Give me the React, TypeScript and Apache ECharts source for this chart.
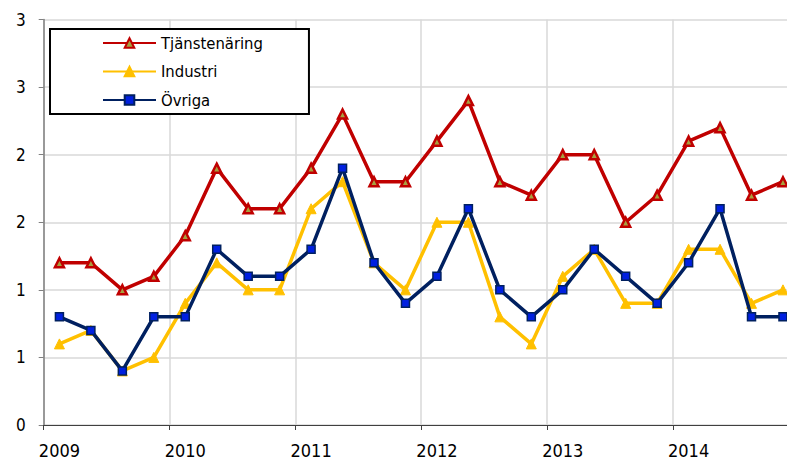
import React, { useEffect, useRef } from "react";
import * as echarts from "echarts";

const quarters = [
  "2009K1", "2009K2", "2009K3", "2009K4",
  "2010K1", "2010K2", "2010K3", "2010K4",
  "2011K1", "2011K2", "2011K3", "2011K4",
  "2012K1", "2012K2", "2012K3", "2012K4",
  "2013K1", "2013K2", "2013K3", "2013K4",
  "2014K1", "2014K2", "2014K3", "2014K4",
];

const tjanstenaring = [1.2, 1.2, 1.0, 1.1, 1.4, 1.9, 1.6, 1.6, 1.9, 2.3, 1.8, 1.8, 2.1, 2.4, 1.8, 1.7, 2.0, 2.0, 1.5, 1.7, 2.1, 2.2, 1.7, 1.8];
const industri = [0.6, 0.7, 0.4, 0.5, 0.9, 1.2, 1.0, 1.0, 1.6, 1.8, 1.2, 1.0, 1.5, 1.5, 0.8, 0.6, 1.1, 1.3, 0.9, 0.9, 1.3, 1.3, 0.9, 1.0];
const ovriga = [0.8, 0.7, 0.4, 0.8, 0.8, 1.3, 1.1, 1.1, 1.3, 1.9, 1.2, 0.9, 1.1, 1.6, 1.0, 0.8, 1.0, 1.3, 1.1, 0.9, 1.2, 1.6, 0.8, 0.8];

const seriesNames = ["Tjänstenäring", "Industri", "Övriga"];

const FONT = "'DejaVu Sans Condensed', 'Liberation Sans Narrow', 'Arial Narrow', sans-serif";

export default function App() {
  const ref = useRef<HTMLDivElement>(null);
  useEffect(() => {
    if (!ref.current) return;
    const chart = echarts.init(ref.current, null, { renderer: "svg" });
    chart.setOption({
      animation: false,
      backgroundColor: "#ffffff",
      grid: {
        left: 43.7,
        top: 19.5,
        width: 755,
        height: 405.5,
        containLabel: false,
        outerBoundsMode: "none",
      },
      legend: {
        orient: "vertical",
        left: 50,
        top: 29,
        padding: [4, 46, 4, 52],
        itemWidth: 53,
        itemHeight: 12,
        itemGap: 8.5,
        borderColor: "#000000",
        borderWidth: 2,
        backgroundColor: "#ffffff",
        textStyle: { fontFamily: FONT, fontSize: 16.5, lineHeight: 20, color: "#000000" },
        data: seriesNames,
      },
      xAxis: {
        type: "category",
        data: quarters,
        boundaryGap: true,
        axisLine: { show: true, lineStyle: { color: "#404040", width: 1 } },
        axisTick: { show: true, length: 5, interval: 3, lineStyle: { color: "#404040" } },
        splitLine: { show: true, interval: 3, lineStyle: { color: "#D9D9D9", width: 1.5 } },
        axisLabel: {
          interval: 3,
          fontFamily: FONT,
          fontSize: 18,
          color: "#000000",
          margin: 16,
          formatter: (v: string) => v.slice(0, 4),
        },
      },
      yAxis: {
        type: "value",
        min: 0,
        max: 3,
        interval: 0.5,
        axisLine: { show: true, lineStyle: { color: "#808080", width: 1.5 } },
        axisTick: { show: true, length: 5, lineStyle: { color: "#808080" } },
        splitLine: { show: true, lineStyle: { color: "#D9D9D9", width: 1.5 } },
        axisLabel: {
          fontFamily: FONT,
          fontSize: 17,
          color: "#000000",
          margin: 18,
          formatter: (v: number) => String(Math.round(v)),
        },
      },
      series: [
        {
          name: seriesNames[0],
          type: "line",
          data: tjanstenaring,
          symbol: "triangle",
          symbolSize: 9,
          lineStyle: { color: "#C00000", width: 3.5 },
          itemStyle: { color: "#A8A040", borderColor: "#C00000", borderWidth: 2.5 },
          z: 3,
        },
        {
          name: seriesNames[1],
          type: "line",
          data: industri,
          symbol: "triangle",
          symbolSize: 10,
          lineStyle: { color: "#FFC000", width: 3.5 },
          itemStyle: { color: "#FFC000", borderColor: "#FFC000", borderWidth: 1 },
          z: 2,
        },
        {
          name: seriesNames[2],
          type: "line",
          data: ovriga,
          symbol: "rect",
          symbolSize: 8,
          lineStyle: { color: "#002060", width: 3.5 },
          itemStyle: { color: "#0020E0", borderColor: "#002060", borderWidth: 1.5 },
          z: 4,
        },
      ],
    });
    return () => chart.dispose();
  }, []);
  return (
    <div
      ref={ref}
      style={{ position: "absolute", left: 0, top: 0, width: 787, height: 460 }}
    />
  );
}
